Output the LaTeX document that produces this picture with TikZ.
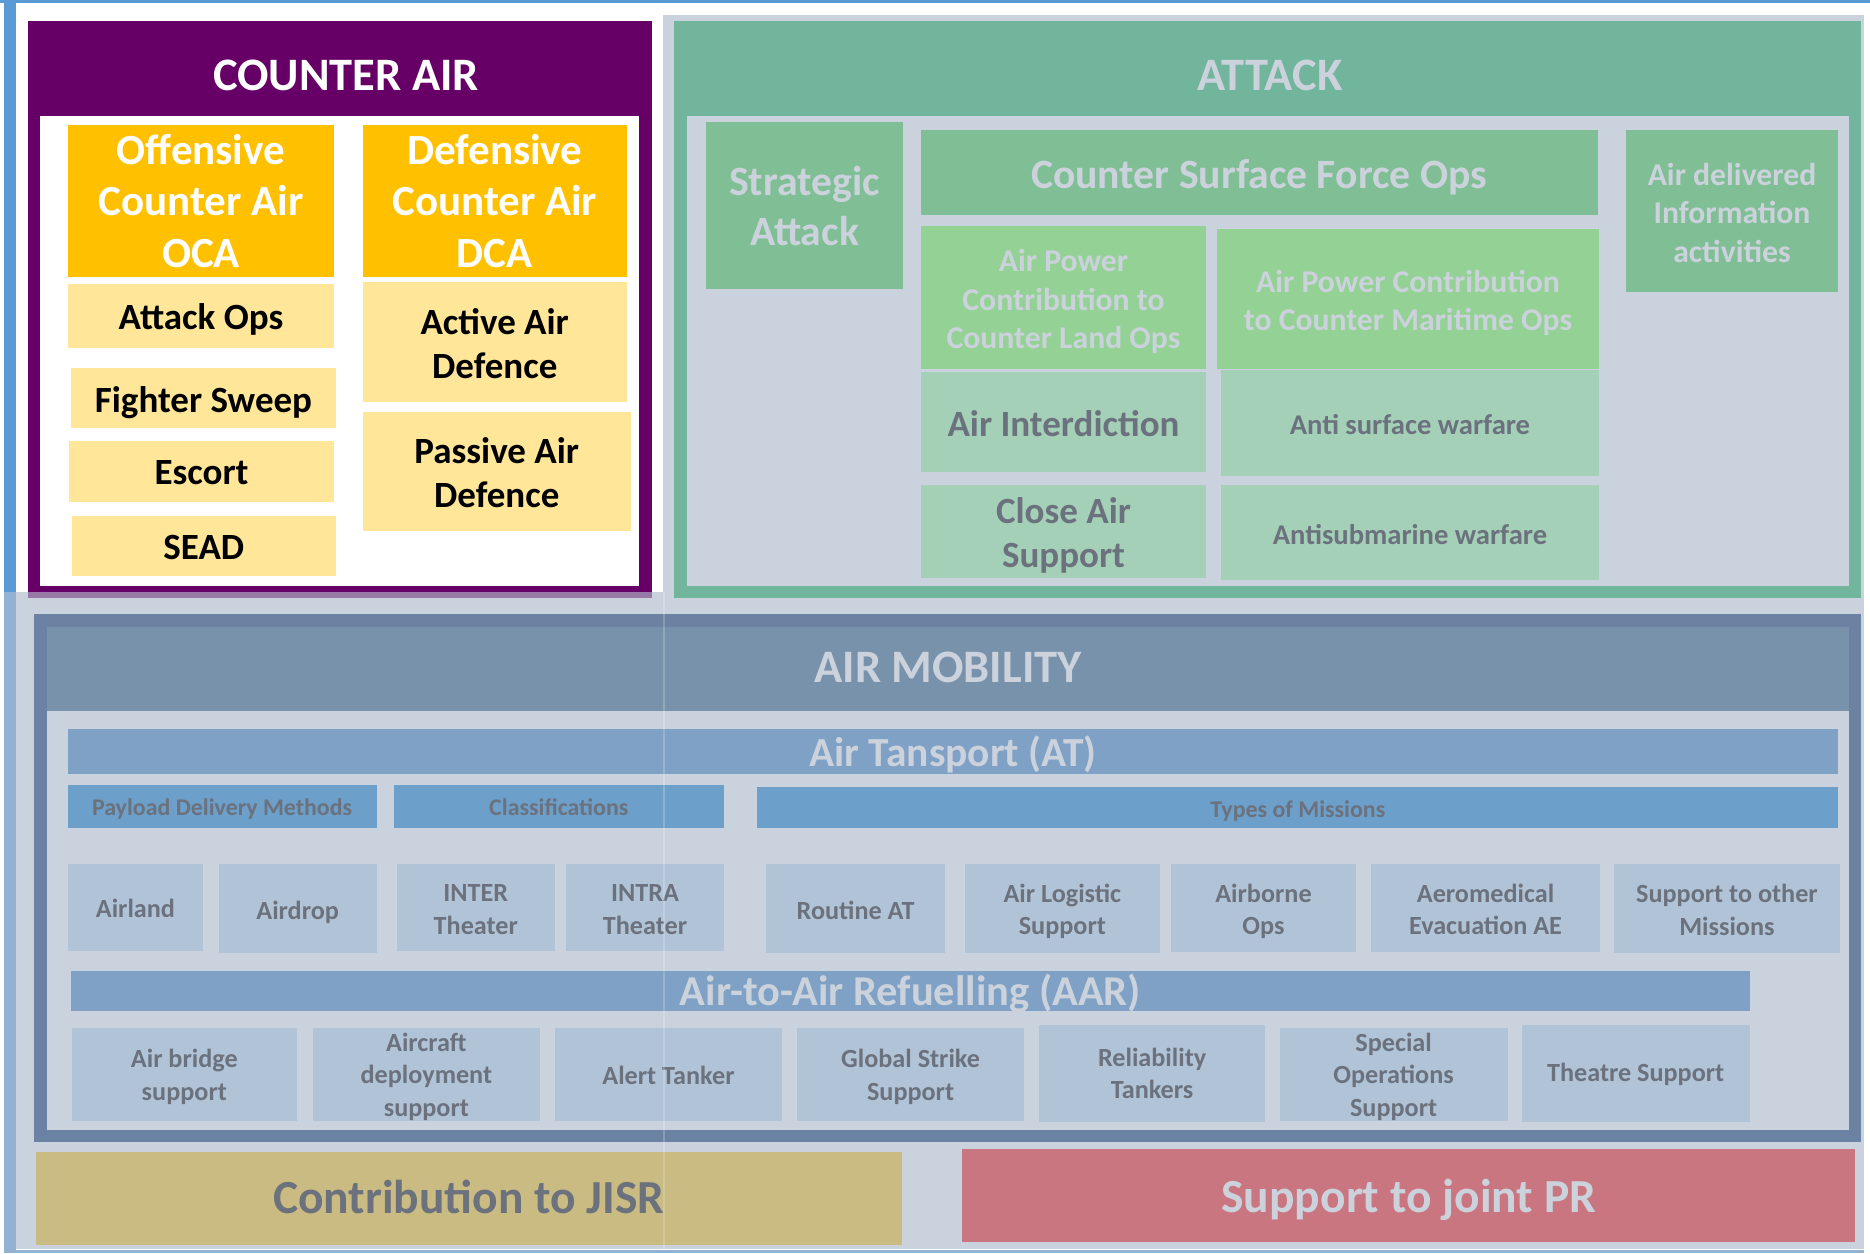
\documentclass[tikz,border=0pt]{standalone}
\usepackage{fontspec}
\setmainfont{Carlito}
\definecolor{bluefr}{HTML}{5B9BD5}
\definecolor{bluefrlite}{HTML}{93B1D2}
\definecolor{purp}{HTML}{660066}
\definecolor{purplite}{HTML}{9878A6}
\definecolor{orng}{HTML}{FFC000}
\definecolor{yel}{HTML}{FFE699}
\definecolor{gbg}{HTML}{CAD2DE}
\definecolor{teal}{HTML}{70B59C}
\definecolor{gmid}{HTML}{80BF95}
\definecolor{glight}{HTML}{94D195}
\definecolor{gpale}{HTML}{A5D0B8}
\definecolor{amborder}{HTML}{6C82A2}
\definecolor{amband}{HTML}{7892AB}
\definecolor{atbar}{HTML}{7FA1C5}
\definecolor{subbar}{HTML}{6C9FC9}
\definecolor{boxb}{HTML}{B1C4D7}
\definecolor{jisr}{HTML}{C9BB82}
\definecolor{prc}{HTML}{C97681}
\definecolor{darkt}{HTML}{6B717D}
\definecolor{lightt}{HTML}{CBD2DC}
% box node (#1) from (#2,#3) to (#4,#5), fill #6, text style #7, text offset #8 (down), text #9
\newcommand\rbox[9]{%
  \node[cell, fill=#6, minimum width={(#4-#2)*1pt}, minimum height={(#5-#3)*1pt}] (#1) at ({(#2+#4)/2},{(#3+#5)/2}) {};
  \node[#7] (#1-t) at ({(#2+#4)/2},{(#3+#5)/2+#8}) {#9};}
\begin{document}
\begin{tikzpicture}[x=1pt,y=-1pt,
  every node/.style={inner sep=0pt, outer sep=0pt, align=center},
  cell/.style={rectangle, draw=none},
  fttl/.style={font=\fontsize{46.5}{56}\selectfont\bfseries},
  foca/.style={font=\fontsize{43}{51.5}\selectfont\bfseries, text=white},
  fblk/.style={font=\fontsize{37}{43.6}\selectfont\bfseries, text=black},
  fdk/.style={font=\fontsize{37}{43.6}\selectfont\bfseries, text=darkt},
  fbig/.style={font=\fontsize{41.7}{49.5}\selectfont\bfseries, text=lightt},
  fmid/.style={font=\fontsize{31.7}{38.5}\selectfont\bfseries, text=lightt},
  fsm/.style={font=\fontsize{28.6}{34}\selectfont\bfseries, text=darkt},
  fhdr/.style={font=\fontsize{23.9}{28}\selectfont\bfseries, text=darkt},
  fbox/.style={font=\fontsize{26.2}{32.2}\selectfont\bfseries, text=darkt},
  fbar/.style={font=\fontsize{41.4}{48}\selectfont\bfseries, text=lightt},
  faar/.style={font=\fontsize{42.5}{50}\selectfont\bfseries, text=lightt},
  fbot/.style={font=\fontsize{47.5}{56}\selectfont\bfseries}
]
\useasboundingbox (0,0) rectangle (1870,1253);
\fill[white] (0,0) rectangle (1870,1253);
% frame
\fill[bluefr] (0,0) rectangle (1870,3);
\fill[bluefr] (4,0) rectangle (16,592);
\fill[bluefrlite] (4,592) rectangle (16,1250);
\fill[bluefrlite] (4,1250) rectangle (1864,1253);
% grey overlay areas
\fill[gbg] (663,15) rectangle (1864,1249);
\fill[gbg] (16,592) rectangle (663,1249);

% ---------------- COUNTER AIR ----------------
\fill[purp] (28,21) rectangle (652,592);
\fill[purplite] (28,592) rectangle (652,598);
\fill[white] (40,116) rectangle (639,586);
\node[fttl, text=white] (catitle) at (346,75) {COUNTER AIR};
\rbox{oca}{68}{125}{334}{277}{orng}{foca}{0}{Offensive\\Counter Air\\OCA}
\rbox{dca}{362.5}{125}{627}{277}{orng}{foca}{0}{Defensive\\Counter Air\\DCA}
\rbox{attackops}{68}{284}{334}{348}{yel}{fblk}{3.6}{Attack Ops}
\rbox{fsweep}{71}{368}{336}{428}{yel}{fblk}{4.8}{Fighter Sweep}
\rbox{escort}{69}{441}{334}{502}{yel}{fblk}{1.2}{Escort}
\rbox{sead}{71.6}{516}{336}{576}{yel}{fblk}{1.2}{SEAD}
\rbox{aad}{362.5}{281.5}{627}{402}{yel}{fblk}{2}{Active Air\\Defence}
\rbox{pad}{362.5}{411.5}{631}{531}{yel}{fblk}{1.2}{Passive Air\\Defence}

% ---------------- ATTACK ----------------
\fill[teal] (674,21) rectangle (1861,598);
\fill[gbg] (687,116) rectangle (1849,586);
\node[fttl, text=lightt] (attitle) at (1270,75) {ATTACK};
\rbox{strat}{706}{122}{903}{288.6}{gmid}{fbig}{0.5}{Strategic\\Attack}
\rbox{csfo}{920.7}{130}{1597.5}{215.4}{gmid}{fbig}{4.8}{Counter Surface Force Ops}
\rbox{adia}{1626}{130}{1838}{292}{gmid}{fmid}{1.5}{Air delivered\\Information\\activities}
\rbox{apcland}{920.7}{226}{1206.3}{368.5}{glight}{fmid}{4.5}{Air Power\\Contribution to\\Counter Land Ops}
\rbox{apcmar}{1217}{229}{1599}{368.5}{glight}{fmid}{4}{Air Power Contribution\\to Counter Maritime Ops}
\rbox{ai}{920.7}{371.6}{1206.3}{472.3}{gpale}{fdk}{1.2}{Air Interdiction}
\rbox{asuw}{1221}{370.4}{1599}{476.3}{gpale}{fsm}{1.2}{Anti surface warfare}
\rbox{cas}{920.7}{485}{1206.3}{578.4}{gpale}{fdk}{4}{Close Air\\Support}
\rbox{asw}{1221}{485}{1599}{580.3}{gpale}{fsm}{2}{Antisubmarine warfare}

% ---------------- AIR MOBILITY ----------------
\fill[amborder] (34,614) rectangle (1861,1142);
\fill[amband] (46.5,626.7) rectangle (1849,711);
\fill[gbg] (46.5,711) rectangle (1849,1130);
\node[fttl, text=lightt] (amtitle) at (948,667.6) {AIR MOBILITY};
\rbox{at}{67.7}{728.7}{1838.4}{773.6}{atbar}{fbar}{3.6}{Air Tansport (AT)}
\rbox{pdm}{67.7}{784.7}{376.5}{827.7}{subbar}{fhdr}{2.4}{Payload Delivery Methods}
\rbox{cls}{393.6}{784.7}{724}{827.7}{subbar}{fhdr}{1.2}{Classifications}
\rbox{tom}{757.3}{787}{1838.4}{827.7}{subbar}{fhdr}{3.6}{Types of Missions}
\rbox{airland}{67.7}{864}{203.2}{950.6}{boxb}{fbox}{1.2}{Airland}
\rbox{airdrop}{218.8}{864}{376.5}{953.4}{boxb}{fbox}{3.6}{Airdrop}
\rbox{inter}{397}{864}{554.6}{950.5}{boxb}{fbox}{2.4}{INTER\\Theater}
\rbox{intra}{566}{864}{724}{950.5}{boxb}{fbox}{2.4}{INTRA\\Theater}
\rbox{routine}{766.2}{864}{945}{953.4}{boxb}{fbox}{1.2}{Routine AT}
\rbox{als}{965}{864}{1159.7}{953.4}{boxb}{fbox}{2.4}{Air Logistic\\Support}
\rbox{abops}{1171}{864}{1356}{952.3}{boxb}{fbox}{3.6}{Airborne\\Ops}
\rbox{aeromed}{1371.3}{864}{1599.8}{952.3}{boxb}{fbox}{1.2}{Aeromedical\\Evacuation AE}
\rbox{sotm}{1614.2}{864}{1839.6}{953.4}{boxb}{fbox}{1.2}{Support to other\\Missions}
\rbox{aar}{70.7}{970.7}{1750.3}{1011}{atbar}{faar}{2.4}{Air-to-Air Refuelling (AAR)}
\rbox{abs}{71.6}{1028.3}{297}{1120.6}{boxb}{fbox}{2.4}{Air bridge\\support}
\rbox{ads}{312.5}{1028.3}{540.2}{1120.6}{boxb}{fbox}{2.4}{Aircraft\\deployment\\support}
\rbox{alert}{554.6}{1028.3}{782.3}{1120.6}{boxb}{fbox}{1.2}{Alert Tanker}
\rbox{gss}{796.7}{1028.3}{1024.4}{1120.6}{boxb}{fbox}{2.4}{Global Strike\\Support}
\rbox{reltank}{1038.8}{1025}{1265.4}{1121.7}{boxb}{fbox}{0}{Reliability\\Tankers}
\rbox{sos}{1279.7}{1028.3}{1507.5}{1120.6}{boxb}{fbox}{2.4}{Special\\Operations\\Support}
\rbox{theatre}{1521.8}{1025}{1749.5}{1121.7}{boxb}{fbox}{1.2}{Theatre Support}

% ---------------- BOTTOM ----------------
\rbox{jisrbox}{35.8}{1152}{901.6}{1245}{jisr}{fbot, text=darkt}{-1.2}{Contribution to JISR}
\rbox{prbox}{962.4}{1149}{1855}{1241.6}{prc}{fbot, text=lightt}{4.8}{Support to joint PR}

% seam line
\draw[white, opacity=0.2, line width=2pt] (664,592) -- (664,1249);
\end{tikzpicture}
\end{document}
